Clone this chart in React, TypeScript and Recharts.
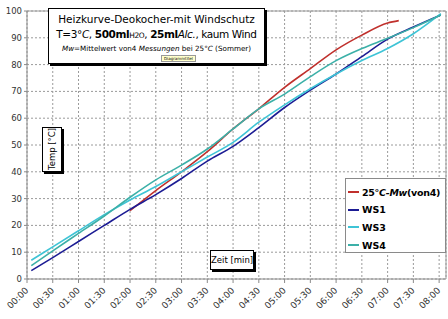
import React from 'react';
import {
  LineChart,
  Line,
  XAxis,
  YAxis,
  CartesianGrid,
  ReferenceLine
} from 'recharts';

// Zeitpunkte in Minuten
const TIMES = [5, 30, 60, 90, 120, 150, 180, 210, 240, 270, 300, 330, 360, 390, 420, 433, 450, 482];

const MW25 = [null, null, null, null, 25.5, 33, 40, 47.5, 56, 63.5, 71.5, 78.5, 85.5, 91, 95.5, 96.4, null, null];
const WS1 = [3.1, 8, 14, 20, 26, 31.5, 37.5, 44, 49.5, 56.5, 64, 70.5, 76.5, 83, 89.5, null, 94, 98.5];
const WS3 = [7, 12, 18, 24, 29.5, 34.5, 40, 45.5, 51, 58.5, 65, 71, 76.5, 81.5, 86, null, 91.5, 99];
const WS4 = [5, 10.5, 17, 23.5, 30.5, 37, 42.5, 48.5, 56, 63.5, 69, 75.5, 81.5, 86, 89.8, null, 93.8, 98.5];

const X_TICKS = [0, 30, 60, 90, 120, 150, 180, 210, 240, 270, 300, 330, 360, 390, 420, 450, 480];
const Y_TICKS = [0, 10, 20, 30, 40, 50, 60, 70, 80, 90, 100];

const SERIES = [
  { key: 'mw', name: '25°C-Mw(von4)', values: MW25, color: '#c0302c' },
  { key: 'ws1', name: 'WS1', values: WS1, color: '#1c1c94' },
  { key: 'ws3', name: 'WS3', values: WS3, color: '#3ec4d6' },
  { key: 'ws4', name: 'WS4', values: WS4, color: '#3cb0a8' }
];

const data = TIMES.map((t, i) => {
  const row: any = { t };
  SERIES.forEach(s => { row[s.key] = s.values[i]; });
  return row;
});

const pad = (n: number) => String(n).padStart(2, '0');
const fmtTime = (m: number) => `${pad(Math.floor(m / 60))}:${pad(m % 60)}`;

const FONT = '"DejaVu Sans", Verdana, sans-serif';

const XTick = (props: any) => {
  const { x, y, payload } = props;
  return (
    <text
      x={x + 2}
      y={y + 6}
      transform={`rotate(-45, ${x + 2}, ${y + 6})`}
      textAnchor="end"
      fontSize={9}
      fontFamily={FONT}
      fill="#333"
    >
      {fmtTime(payload.value)}
    </text>
  );
};

const boxStyle: React.CSSProperties = {
  position: 'absolute',
  background: '#fff',
  border: '1px solid #000',
  boxShadow: '2px 2px 0 #000',
  boxSizing: 'border-box',
  fontFamily: FONT,
  color: '#000'
};

export default function App() {
  return (
    <div style={{ position: 'absolute', left: 0, top: 0, width: 448, height: 319, background: '#fff', overflow: 'hidden' }}>
      <LineChart width={448} height={319} data={data} margin={{ top: 11, right: 2, left: 0, bottom: 0 }}>
        <CartesianGrid stroke="#9a9a9a" strokeDasharray="2 2" />
        <XAxis
          dataKey="t"
          type="number"
          domain={[0, 488]}
          ticks={X_TICKS}
          interval={0}
          height={40}
          tick={<XTick />}
          tickSize={4}
          stroke="#8a8a8a"
        />
        <YAxis
          domain={[0, 100]}
          ticks={Y_TICKS}
          width={27}
          tickSize={3}
          tickMargin={2}
          stroke="#8a8a8a"
          tick={{ fontSize: 8.5, fontFamily: FONT, fill: '#333' }}
        />
        <ReferenceLine x={488} stroke="#9a9a9a" />
        <ReferenceLine y={100} stroke="#9a9a9a" />
        {SERIES.map(s => (
          <Line
            key={s.key}
            type="monotone"
            dataKey={s.key}
            name={s.name}
            stroke={s.color}
            strokeWidth={1.6}
            dot={false}
            connectNulls
            isAnimationActive={false}
          />
        ))}
      </LineChart>

      {/* Diagrammtitel */}
      <div style={{ ...boxStyle, left: 48, top: 8, width: 217, height: 56, textAlign: 'center' }}>
        <div style={{ fontSize: 10.5, marginTop: 4, whiteSpace: 'nowrap' }}>Heizkurve-Deokocher-mit Windschutz</div>
        <div style={{ fontSize: 10.5, marginTop: 3, whiteSpace: 'nowrap', letterSpacing: -0.4 }}>
          T=3°<i>C</i>, <b>500ml</b><span style={{ fontSize: 7.5 }}>H2O</span>, <b>25ml</b><i>Alc.</i>, kaum Wind
        </div>
        <div style={{ fontSize: 7.2, marginTop: 4, whiteSpace: 'nowrap' }}>
          <i>Mw</i>=Mittelwert von4 <i>Messungen</i> bei 25°<i>C</i> (Sommer)
        </div>
        <div style={{ position: 'absolute', left: 112, top: 46, fontSize: 4, background: '#ffffcc', border: '1px solid #999', padding: '0 2px', lineHeight: '5px' }}>
          Diagrammtitel
        </div>
      </div>

      {/* Y-Achsentitel */}
      <div style={{ ...boxStyle, left: 42, top: 127, width: 20, height: 45 }}>
        <div style={{ position: 'absolute', left: 9, top: 21, transform: 'translate(-50%, -50%) rotate(-90deg)', fontSize: 8.5, whiteSpace: 'nowrap' }}>
          Temp [°C]
        </div>
      </div>

      {/* X-Achsentitel */}
      <div style={{ ...boxStyle, left: 210, top: 250, width: 44, height: 20, fontSize: 8.5, lineHeight: '18px', textAlign: 'center', whiteSpace: 'nowrap' }}>
        Zeit [min]
      </div>

      {/* Legende */}
      <div style={{ position: 'absolute', left: 345, top: 178, width: 101, height: 75, background: '#fff', border: '1px solid #8a8a8a', boxSizing: 'border-box', fontFamily: FONT, fontWeight: 'bold', fontSize: 9.5 }}>
        {SERIES.map((s, i) => (
          <div key={s.key} style={{ position: 'absolute', left: 2, top: 6 + i * 17.7, height: 14, display: 'flex', alignItems: 'center', whiteSpace: 'nowrap' }}>
            <span style={{ display: 'inline-block', width: 11, height: 2, background: s.color, marginRight: 3 }} />
            {s.key === 'mw' ? (
              <span style={{ letterSpacing: -0.3 }}>25°<i>C-Mw</i>(von4)</span>
            ) : (
              <span>{s.name}</span>
            )}
          </div>
        ))}
      </div>
    </div>
  );
}
